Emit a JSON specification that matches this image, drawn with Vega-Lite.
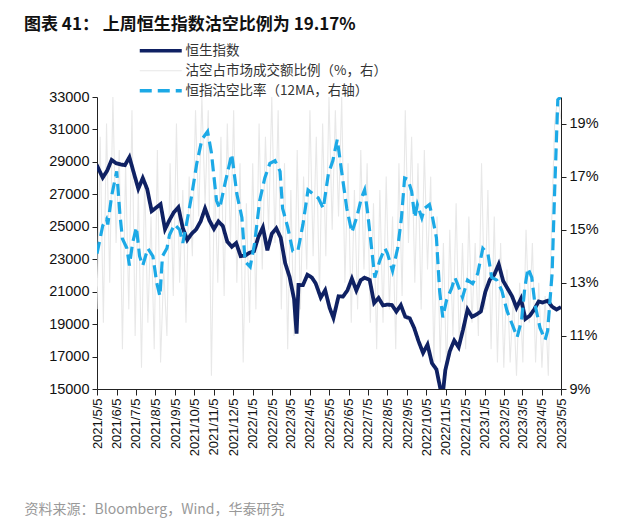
{
 "$schema": "https://vega.github.io/schema/vega-lite/v6.json",
 "width": 464, "height": 292,
 "autosize": {"type": "none"},
 "padding": {"left": 97, "top": 97, "right": 79, "bottom": 139},
 "background": "white",
 "title": {"text": "图表 41： 上周恒生指数沽空比例为 19.17%", "anchor": "start", "frame": "group", "dx": -73, "offset": 10, "fontSize": 17, "font": "Noto Sans CJK SC", "fontWeight": "bold", "color": "#111"},
 "data": {"values": [
  {"s":"A","d":"2021-05-05","v":28418},{"s":"A","d":"2021-05-07","v":28610},{"s":"A","d":"2021-05-14","v":28027},{"s":"A","d":"2021-05-21","v":28458},{"s":"A","d":"2021-05-28","v":29124},
  {"s":"A","d":"2021-06-04","v":28918},{"s":"A","d":"2021-06-11","v":28842},{"s":"A","d":"2021-06-18","v":28801},{"s":"A","d":"2021-06-25","v":29288},{"s":"A","d":"2021-07-02","v":28310},
  {"s":"A","d":"2021-07-09","v":27344},{"s":"A","d":"2021-07-16","v":28004},{"s":"A","d":"2021-07-23","v":27321},{"s":"A","d":"2021-07-30","v":25961},{"s":"A","d":"2021-08-06","v":26179},
  {"s":"A","d":"2021-08-13","v":26391},{"s":"A","d":"2021-08-20","v":24849},{"s":"A","d":"2021-08-27","v":25407},{"s":"A","d":"2021-09-03","v":25901},{"s":"A","d":"2021-09-10","v":26205},
  {"s":"A","d":"2021-09-17","v":24920},{"s":"A","d":"2021-09-24","v":24192},{"s":"A","d":"2021-10-01","v":24575},{"s":"A","d":"2021-10-08","v":24837},{"s":"A","d":"2021-10-15","v":25330},
  {"s":"A","d":"2021-10-22","v":26127},{"s":"A","d":"2021-10-29","v":25377},{"s":"A","d":"2021-11-05","v":24870},{"s":"A","d":"2021-11-12","v":25328},{"s":"A","d":"2021-11-19","v":25049},
  {"s":"A","d":"2021-11-26","v":24080},{"s":"A","d":"2021-12-03","v":23767},{"s":"A","d":"2021-12-10","v":23996},{"s":"A","d":"2021-12-17","v":23193},{"s":"A","d":"2021-12-24","v":23224},
  {"s":"A","d":"2021-12-31","v":23398},{"s":"A","d":"2022-01-07","v":23493},{"s":"A","d":"2022-01-14","v":24383},{"s":"A","d":"2022-01-21","v":24966},{"s":"A","d":"2022-01-28","v":23550},
  {"s":"A","d":"2022-02-04","v":24573},{"s":"A","d":"2022-02-11","v":24906},{"s":"A","d":"2022-02-18","v":24328},{"s":"A","d":"2022-02-25","v":22767},{"s":"A","d":"2022-03-04","v":21906},
  {"s":"A","d":"2022-03-11","v":20554},{"s":"A","d":"2022-03-15","v":18415},{"s":"A","d":"2022-03-18","v":21412},{"s":"A","d":"2022-03-25","v":21405},{"s":"A","d":"2022-04-01","v":22039},
  {"s":"A","d":"2022-04-08","v":21872},{"s":"A","d":"2022-04-14","v":21518},{"s":"A","d":"2022-04-22","v":20638},{"s":"A","d":"2022-04-29","v":21089},{"s":"A","d":"2022-05-06","v":20001},
  {"s":"A","d":"2022-05-12","v":19380},{"s":"A","d":"2022-05-20","v":20717},{"s":"A","d":"2022-05-27","v":20697},{"s":"A","d":"2022-06-03","v":21082},{"s":"A","d":"2022-06-10","v":21806},
  {"s":"A","d":"2022-06-17","v":21075},{"s":"A","d":"2022-06-24","v":21719},{"s":"A","d":"2022-06-30","v":21860},{"s":"A","d":"2022-07-08","v":21725},{"s":"A","d":"2022-07-15","v":20297},
  {"s":"A","d":"2022-07-22","v":20610},{"s":"A","d":"2022-07-29","v":20156},{"s":"A","d":"2022-08-05","v":20202},{"s":"A","d":"2022-08-12","v":20175},{"s":"A","d":"2022-08-19","v":19773},
  {"s":"A","d":"2022-08-26","v":20170},{"s":"A","d":"2022-09-02","v":19452},{"s":"A","d":"2022-09-09","v":19362},{"s":"A","d":"2022-09-16","v":18762},{"s":"A","d":"2022-09-23","v":17933},
  {"s":"A","d":"2022-09-30","v":17223},{"s":"A","d":"2022-10-07","v":17740},{"s":"A","d":"2022-10-14","v":16588},{"s":"A","d":"2022-10-21","v":16211},{"s":"A","d":"2022-10-28","v":14863},
  {"s":"A","d":"2022-10-31","v":14687},{"s":"A","d":"2022-11-04","v":16161},{"s":"A","d":"2022-11-11","v":17326},{"s":"A","d":"2022-11-18","v":17993},{"s":"A","d":"2022-11-25","v":17574},
  {"s":"A","d":"2022-12-02","v":18675},{"s":"A","d":"2022-12-09","v":19901},{"s":"A","d":"2022-12-16","v":19450},{"s":"A","d":"2022-12-23","v":19593},{"s":"A","d":"2022-12-30","v":19781},
  {"s":"A","d":"2023-01-06","v":20991},{"s":"A","d":"2023-01-13","v":21738},{"s":"A","d":"2023-01-20","v":22045},{"s":"A","d":"2023-01-27","v":22689},{"s":"A","d":"2023-02-03","v":21660},
  {"s":"A","d":"2023-02-10","v":21190},{"s":"A","d":"2023-02-17","v":20719},{"s":"A","d":"2023-02-24","v":20010},{"s":"A","d":"2023-03-03","v":20567},{"s":"A","d":"2023-03-10","v":19320},
  {"s":"A","d":"2023-03-17","v":19518},{"s":"A","d":"2023-03-24","v":19915},{"s":"A","d":"2023-03-31","v":20400},{"s":"A","d":"2023-04-06","v":20332},{"s":"A","d":"2023-04-14","v":20438},
  {"s":"A","d":"2023-04-21","v":20075},{"s":"A","d":"2023-04-28","v":19895},{"s":"A","d":"2023-05-05","v":20049},

  {"s":"B","d":"2021-05-05","v":12.0},{"s":"B","d":"2021-05-10","v":18.5},{"s":"B","d":"2021-05-15","v":11.5},{"s":"B","d":"2021-05-20","v":19.0},{"s":"B","d":"2021-05-25","v":13.0},
  {"s":"B","d":"2021-05-30","v":20.0},{"s":"B","d":"2021-06-04","v":14.5},{"s":"B","d":"2021-06-09","v":18.0},{"s":"B","d":"2021-06-14","v":10.5},{"s":"B","d":"2021-06-19","v":17.5},
  {"s":"B","d":"2021-06-24","v":12.0},{"s":"B","d":"2021-06-29","v":19.5},{"s":"B","d":"2021-07-04","v":11.0},{"s":"B","d":"2021-07-09","v":16.5},{"s":"B","d":"2021-07-14","v":9.8},
  {"s":"B","d":"2021-07-19","v":17.0},{"s":"B","d":"2021-07-24","v":11.5},{"s":"B","d":"2021-07-29","v":15.5},{"s":"B","d":"2021-08-03","v":10.5},{"s":"B","d":"2021-08-08","v":18.0},
  {"s":"B","d":"2021-08-13","v":10.0},{"s":"B","d":"2021-08-18","v":13.5},{"s":"B","d":"2021-08-23","v":11.0},{"s":"B","d":"2021-08-28","v":17.5},{"s":"B","d":"2021-09-02","v":12.5},
  {"s":"B","d":"2021-09-07","v":19.0},{"s":"B","d":"2021-09-12","v":13.0},{"s":"B","d":"2021-09-17","v":16.5},{"s":"B","d":"2021-09-22","v":11.5},{"s":"B","d":"2021-09-27","v":17.0},
  {"s":"B","d":"2021-10-02","v":14.0},{"s":"B","d":"2021-10-07","v":19.5},{"s":"B","d":"2021-10-12","v":15.5},{"s":"B","d":"2021-10-17","v":20.0},{"s":"B","d":"2021-10-22","v":16.0},
  {"s":"B","d":"2021-10-27","v":19.5},{"s":"B","d":"2021-11-01","v":9.5},{"s":"B","d":"2021-11-06","v":17.0},{"s":"B","d":"2021-11-11","v":13.0},{"s":"B","d":"2021-11-16","v":18.5},
  {"s":"B","d":"2021-11-21","v":12.5},{"s":"B","d":"2021-11-26","v":19.0},{"s":"B","d":"2021-12-01","v":14.5},{"s":"B","d":"2021-12-06","v":19.5},{"s":"B","d":"2021-12-11","v":13.0},
  {"s":"B","d":"2021-12-16","v":17.5},{"s":"B","d":"2021-12-21","v":10.0},{"s":"B","d":"2021-12-26","v":16.0},{"s":"B","d":"2021-12-31","v":11.5},{"s":"B","d":"2022-01-05","v":17.5},
  {"s":"B","d":"2022-01-10","v":12.0},{"s":"B","d":"2022-01-15","v":19.0},{"s":"B","d":"2022-01-20","v":13.5},{"s":"B","d":"2022-01-25","v":18.5},{"s":"B","d":"2022-01-30","v":15.0},
  {"s":"B","d":"2022-02-04","v":20.0},{"s":"B","d":"2022-02-09","v":14.5},{"s":"B","d":"2022-02-14","v":19.5},{"s":"B","d":"2022-02-19","v":12.0},{"s":"B","d":"2022-02-24","v":17.5},
  {"s":"B","d":"2022-03-01","v":10.5},{"s":"B","d":"2022-03-06","v":16.5},{"s":"B","d":"2022-03-11","v":11.0},{"s":"B","d":"2022-03-16","v":18.0},{"s":"B","d":"2022-03-21","v":12.0},
  {"s":"B","d":"2022-03-26","v":17.0},{"s":"B","d":"2022-03-31","v":13.5},{"s":"B","d":"2022-04-05","v":19.5},{"s":"B","d":"2022-04-10","v":14.0},{"s":"B","d":"2022-04-15","v":18.5},
  {"s":"B","d":"2022-04-20","v":12.5},{"s":"B","d":"2022-04-25","v":19.0},{"s":"B","d":"2022-04-30","v":14.0},{"s":"B","d":"2022-05-05","v":20.0},{"s":"B","d":"2022-05-10","v":15.0},
  {"s":"B","d":"2022-05-15","v":19.5},{"s":"B","d":"2022-05-20","v":15.5},{"s":"B","d":"2022-05-25","v":20.0},{"s":"B","d":"2022-05-30","v":13.0},{"s":"B","d":"2022-06-04","v":17.5},
  {"s":"B","d":"2022-06-09","v":11.5},{"s":"B","d":"2022-06-14","v":16.5},{"s":"B","d":"2022-06-19","v":12.0},{"s":"B","d":"2022-06-24","v":18.0},{"s":"B","d":"2022-06-29","v":13.5},
  {"s":"B","d":"2022-07-04","v":17.5},{"s":"B","d":"2022-07-09","v":11.5},{"s":"B","d":"2022-07-14","v":16.0},{"s":"B","d":"2022-07-19","v":10.5},{"s":"B","d":"2022-07-24","v":16.5},
  {"s":"B","d":"2022-07-29","v":11.5},{"s":"B","d":"2022-08-03","v":17.0},{"s":"B","d":"2022-08-08","v":12.0},{"s":"B","d":"2022-08-13","v":15.5},{"s":"B","d":"2022-08-18","v":10.5},
  {"s":"B","d":"2022-08-23","v":17.5},{"s":"B","d":"2022-08-28","v":12.5},{"s":"B","d":"2022-09-02","v":19.5},{"s":"B","d":"2022-09-07","v":14.5},{"s":"B","d":"2022-09-12","v":18.5},
  {"s":"B","d":"2022-09-17","v":13.0},{"s":"B","d":"2022-09-22","v":17.5},{"s":"B","d":"2022-09-27","v":12.0},{"s":"B","d":"2022-10-02","v":18.0},{"s":"B","d":"2022-10-07","v":13.5},
  {"s":"B","d":"2022-10-12","v":17.0},{"s":"B","d":"2022-10-17","v":10.0},{"s":"B","d":"2022-10-22","v":15.5},{"s":"B","d":"2022-10-27","v":10.0},{"s":"B","d":"2022-11-01","v":14.5},
  {"s":"B","d":"2022-11-06","v":9.5},{"s":"B","d":"2022-11-11","v":15.0},{"s":"B","d":"2022-11-16","v":11.0},{"s":"B","d":"2022-11-21","v":16.0},{"s":"B","d":"2022-11-26","v":10.5},
  {"s":"B","d":"2022-12-01","v":14.5},{"s":"B","d":"2022-12-06","v":10.5},{"s":"B","d":"2022-12-11","v":15.5},{"s":"B","d":"2022-12-16","v":11.5},{"s":"B","d":"2022-12-21","v":14.5},
  {"s":"B","d":"2022-12-26","v":11.0},{"s":"B","d":"2022-12-31","v":17.5},{"s":"B","d":"2023-01-05","v":12.0},{"s":"B","d":"2023-01-10","v":16.5},{"s":"B","d":"2023-01-15","v":10.5},
  {"s":"B","d":"2023-01-20","v":15.5},{"s":"B","d":"2023-01-25","v":10.0},{"s":"B","d":"2023-01-30","v":14.5},{"s":"B","d":"2023-02-04","v":9.8},{"s":"B","d":"2023-02-09","v":13.5},
  {"s":"B","d":"2023-02-14","v":10.0},{"s":"B","d":"2023-02-19","v":12.5},{"s":"B","d":"2023-02-24","v":9.5},{"s":"B","d":"2023-03-01","v":13.0},{"s":"B","d":"2023-03-06","v":10.0},
  {"s":"B","d":"2023-03-11","v":15.0},{"s":"B","d":"2023-03-16","v":11.5},{"s":"B","d":"2023-03-21","v":14.5},{"s":"B","d":"2023-03-26","v":10.0},{"s":"B","d":"2023-03-31","v":13.0},
  {"s":"B","d":"2023-04-05","v":9.8},{"s":"B","d":"2023-04-10","v":12.5},{"s":"B","d":"2023-04-15","v":9.5},{"s":"B","d":"2023-04-20","v":15.0},{"s":"B","d":"2023-04-25","v":19.0},
  {"s":"B","d":"2023-04-30","v":20.0},{"s":"B","d":"2023-05-05","v":19.17},

  {"s":"C","d":"2021-05-05","v":14.1},{"s":"C","d":"2021-05-14","v":15.15},{"s":"C","d":"2021-05-20","v":15.4},{"s":"C","d":"2021-05-22","v":15.2},{"s":"C","d":"2021-05-28","v":16.27},
  {"s":"C","d":"2021-06-05","v":17.2},{"s":"C","d":"2021-06-10","v":15.6},{"s":"C","d":"2021-06-14","v":14.66},{"s":"C","d":"2021-06-21","v":14.3},{"s":"C","d":"2021-06-25","v":13.65},
  {"s":"C","d":"2021-06-30","v":14.5},{"s":"C","d":"2021-07-06","v":15.1},{"s":"C","d":"2021-07-11","v":14.0},{"s":"C","d":"2021-07-16","v":13.65},{"s":"C","d":"2021-07-24","v":14.3},
  {"s":"C","d":"2021-08-01","v":14.0},{"s":"C","d":"2021-08-07","v":13.0},{"s":"C","d":"2021-08-12","v":12.5},{"s":"C","d":"2021-08-16","v":14.0},{"s":"C","d":"2021-08-23","v":14.3},
  {"s":"C","d":"2021-08-27","v":14.8},{"s":"C","d":"2021-09-04","v":15.2},{"s":"C","d":"2021-09-12","v":15.0},{"s":"C","d":"2021-09-17","v":14.5},{"s":"C","d":"2021-09-25","v":15.5},
  {"s":"C","d":"2021-10-01","v":16.3},{"s":"C","d":"2021-10-09","v":17.5},{"s":"C","d":"2021-10-17","v":18.4},{"s":"C","d":"2021-10-26","v":18.7},{"s":"C","d":"2021-11-01","v":17.9},
  {"s":"C","d":"2021-11-09","v":16.1},{"s":"C","d":"2021-11-14","v":15.8},{"s":"C","d":"2021-11-22","v":16.7},{"s":"C","d":"2021-12-03","v":17.85},{"s":"C","d":"2021-12-11","v":16.35},
  {"s":"C","d":"2021-12-19","v":15.45},{"s":"C","d":"2021-12-24","v":13.8},{"s":"C","d":"2022-01-01","v":13.6},{"s":"C","d":"2022-01-08","v":14.5},{"s":"C","d":"2022-01-16","v":16.1},
  {"s":"C","d":"2022-01-24","v":16.95},{"s":"C","d":"2022-02-01","v":17.5},{"s":"C","d":"2022-02-09","v":17.6},{"s":"C","d":"2022-02-17","v":17.2},{"s":"C","d":"2022-02-21","v":15.8},
  {"s":"C","d":"2022-03-01","v":15.1},{"s":"C","d":"2022-03-09","v":14.2},{"s":"C","d":"2022-03-17","v":14.2},{"s":"C","d":"2022-03-25","v":15.2},{"s":"C","d":"2022-04-02","v":16.5},
  {"s":"C","d":"2022-04-10","v":16.35},{"s":"C","d":"2022-04-18","v":16.2},{"s":"C","d":"2022-04-26","v":15.8},{"s":"C","d":"2022-05-04","v":17.1},{"s":"C","d":"2022-05-11","v":17.6},
  {"s":"C","d":"2022-05-18","v":18.4},{"s":"C","d":"2022-05-26","v":17.0},{"s":"C","d":"2022-06-02","v":15.8},{"s":"C","d":"2022-06-10","v":14.9},{"s":"C","d":"2022-06-18","v":15.5},
  {"s":"C","d":"2022-06-25","v":16.2},{"s":"C","d":"2022-06-30","v":16.5},{"s":"C","d":"2022-07-05","v":15.6},{"s":"C","d":"2022-07-11","v":14.3},{"s":"C","d":"2022-07-16","v":13.2},
  {"s":"C","d":"2022-07-24","v":13.85},{"s":"C","d":"2022-08-01","v":14.3},{"s":"C","d":"2022-08-05","v":14.1},{"s":"C","d":"2022-08-13","v":13.45},{"s":"C","d":"2022-08-21","v":14.3},
  {"s":"C","d":"2022-08-27","v":15.45},{"s":"C","d":"2022-09-01","v":16.95},{"s":"C","d":"2022-09-06","v":16.9},{"s":"C","d":"2022-09-12","v":16.45},{"s":"C","d":"2022-09-17","v":15.45},
  {"s":"C","d":"2022-09-21","v":15.95},{"s":"C","d":"2022-09-28","v":15.45},{"s":"C","d":"2022-10-02","v":15.8},{"s":"C","d":"2022-10-10","v":15.95},{"s":"C","d":"2022-10-15","v":15.45},
  {"s":"C","d":"2022-10-21","v":14.7},{"s":"C","d":"2022-10-26","v":12.7},{"s":"C","d":"2022-10-31","v":11.7},{"s":"C","d":"2022-11-06","v":12.35},{"s":"C","d":"2022-11-14","v":12.8},
  {"s":"C","d":"2022-11-19","v":13.2},{"s":"C","d":"2022-11-23","v":12.97},{"s":"C","d":"2022-12-01","v":12.45},{"s":"C","d":"2022-12-09","v":13.1},{"s":"C","d":"2022-12-17","v":12.97},
  {"s":"C","d":"2022-12-25","v":13.35},{"s":"C","d":"2023-01-02","v":14.3},{"s":"C","d":"2023-01-10","v":14.1},{"s":"C","d":"2023-01-16","v":13.2},{"s":"C","d":"2023-01-24","v":13.1},
  {"s":"C","d":"2023-02-01","v":12.7},{"s":"C","d":"2023-02-09","v":11.95},{"s":"C","d":"2023-02-17","v":11.45},{"s":"C","d":"2023-02-25","v":10.95},{"s":"C","d":"2023-03-04","v":11.6},
  {"s":"C","d":"2023-03-09","v":12.8},{"s":"C","d":"2023-03-14","v":13.55},{"s":"C","d":"2023-03-20","v":13.2},{"s":"C","d":"2023-03-25","v":12.2},{"s":"C","d":"2023-04-02","v":11.3},
  {"s":"C","d":"2023-04-10","v":10.85},{"s":"C","d":"2023-04-14","v":11.2},{"s":"C","d":"2023-04-21","v":13.35},{"s":"C","d":"2023-04-25","v":16.45},{"s":"C","d":"2023-04-30","v":19.9},
  {"s":"C","d":"2023-05-05","v":20.0}
 ]},
 "encoding": {
  "x": {"field": "d", "type": "temporal",
   "scale": {"type": "utc", "domain": [{"year":2021,"month":5,"date":5,"utc":true},{"year":2023,"month":5,"date":5,"utc":true}], "nice": false},
   "axis": {"values": [
     {"year":2021,"month":5,"date":5,"utc":true},{"year":2021,"month":6,"date":5,"utc":true},{"year":2021,"month":7,"date":5,"utc":true},{"year":2021,"month":8,"date":5,"utc":true},
     {"year":2021,"month":9,"date":5,"utc":true},{"year":2021,"month":10,"date":5,"utc":true},{"year":2021,"month":11,"date":5,"utc":true},{"year":2021,"month":12,"date":5,"utc":true},
     {"year":2022,"month":1,"date":5,"utc":true},{"year":2022,"month":2,"date":5,"utc":true},{"year":2022,"month":3,"date":5,"utc":true},{"year":2022,"month":4,"date":5,"utc":true},
     {"year":2022,"month":5,"date":5,"utc":true},{"year":2022,"month":6,"date":5,"utc":true},{"year":2022,"month":7,"date":5,"utc":true},{"year":2022,"month":8,"date":5,"utc":true},
     {"year":2022,"month":9,"date":5,"utc":true},{"year":2022,"month":10,"date":5,"utc":true},{"year":2022,"month":11,"date":5,"utc":true},{"year":2022,"month":12,"date":5,"utc":true},
     {"year":2023,"month":1,"date":5,"utc":true},{"year":2023,"month":2,"date":5,"utc":true},{"year":2023,"month":3,"date":5,"utc":true},{"year":2023,"month":4,"date":5,"utc":true},
     {"year":2023,"month":5,"date":5,"utc":true}],
    "labelExpr": "utcFormat(datum.value, '%Y/%-m/%-d')", "labelAngle": -90, "labelFontSize": 13, "labelFont": "Liberation Sans", "labelColor": "#111",
    "tickSize": 6, "tickColor": "#222", "domainColor": "#222", "labelPadding": 3, "grid": false, "labelOverlap": false, "labelBound": false, "labelFlush": false,
    "title": "资料来源：Bloomberg，Wind，华泰研究", "titleX": -73, "titleY": 120, "titleAnchor": "start", "titleAlign": "left", "titleBaseline": "middle",
    "titleFontSize": 14, "titleFont": "Noto Sans CJK SC", "titleFontWeight": "normal", "titleColor": "#999999"}}
 },
 "layer": [
  {"transform": [{"filter": "datum.s == 'B'"}],
   "mark": {"type": "line", "clip": true, "strokeWidth": 1.1},
   "encoding": {
    "y": {"field": "v", "type": "quantitative", "scale": {"domain": [9, 20], "nice": false, "zero": false}, "axis": null},
    "color": {"field": "s", "type": "nominal", "scale": {"domain": ["A","B","C"], "range": ["#0F2163","#E8E8E8","#1CA9E6"]},
     "legend": {"orient": "none", "legendX": 57, "legendY": -53, "title": null, "symbolType": "M-3,0H3", "symbolSize": 196, "labelFontSize": 13.5, "labelFont": "Noto Sans CJK SC", "labelColor": "#333", "labelOffset": 18, "rowPadding": 5, "labelLimit": 0, "padding": 0,
       "labelExpr": "datum.label == 'A' ? '恒生指数' : datum.label == 'B' ? '沽空占市场成交额比例（%，右）' : '恒指沽空比率（12MA，右轴）'",
       "encode": {"symbols": {"update": {"strokeWidth": {"signal": "datum.value == 'B' ? 1.2 : 3.5"}}}}}},
    "strokeDash": {"field": "s", "type": "nominal", "scale": {"domain": ["A","B","C"], "range": [[1,0],[1,0],[12,6]]}}
   }},
  {"transform": [{"filter": "datum.s == 'A'"}],
   "mark": {"type": "line", "clip": true, "strokeWidth": 3.8},
   "encoding": {
    "y": {"field": "v", "type": "quantitative", "scale": {"domain": [15000, 33000], "nice": false, "zero": false},
     "axis": {"orient": "left", "values": [15000,17000,19000,21000,23000,25000,27000,29000,31000,33000], "format": "d", "labelFontSize": 14.5, "labelFont": "Liberation Sans", "labelColor": "#111", "tickSize": 5, "tickColor": "#222", "domainColor": "#222", "grid": false, "title": null, "labelPadding": 3}},
    "color": {"field": "s", "type": "nominal"},
    "strokeDash": {"field": "s", "type": "nominal"}
   }},
  {"transform": [{"filter": "datum.s == 'C'"}],
   "mark": {"type": "line", "clip": true, "strokeWidth": 3.2},
   "encoding": {
    "y": {"field": "v", "type": "quantitative", "scale": {"domain": [9, 20], "nice": false, "zero": false},
     "axis": {"orient": "right", "values": [9,11,13,15,17,19], "labelExpr": "datum.value + '%'", "labelFontSize": 14.5, "labelFont": "Liberation Sans", "labelColor": "#111", "tickSize": 5, "tickColor": "#222", "domainColor": "#222", "grid": false, "title": null, "labelPadding": 3}},
    "color": {"field": "s", "type": "nominal"},
    "strokeDash": {"field": "s", "type": "nominal"}
   }}
 ],
 "resolve": {"scale": {"y": "independent"}},
 "config": {"view": {"stroke": null}}
}
